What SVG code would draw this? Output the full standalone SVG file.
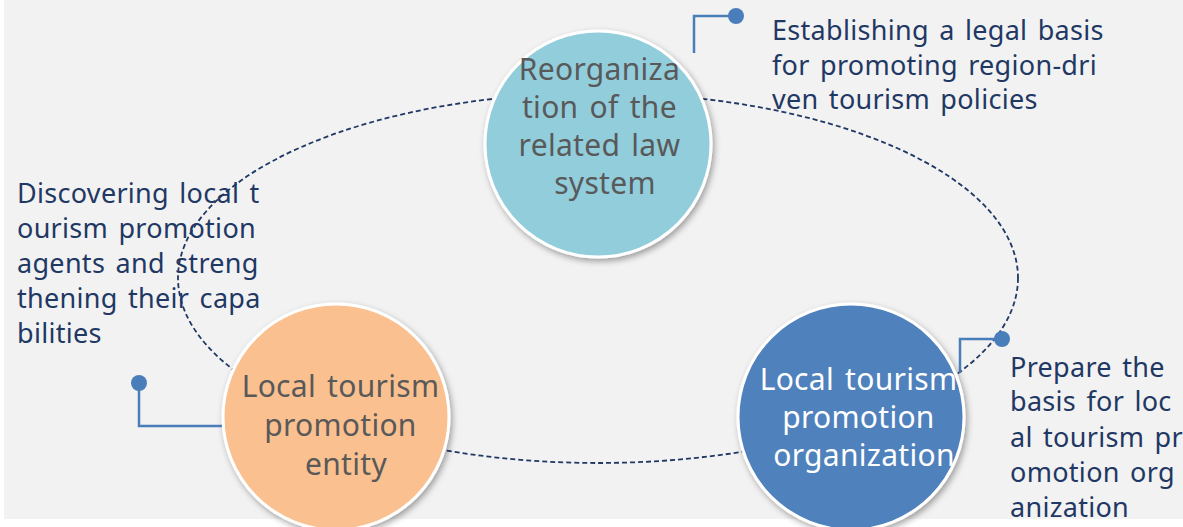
<svg xmlns="http://www.w3.org/2000/svg" width="1183" height="527" viewBox="0 0 1183 527">
  <defs>
    <filter id="shadow" x="-20%" y="-20%" width="140%" height="140%">
      <feDropShadow dx="2" dy="3" stdDeviation="3" flood-color="#000" flood-opacity="0.35"/>
    </filter>
    <style>
      .ring { fill: none; stroke: #1f3864; stroke-width: 1.8; stroke-dasharray: 5 3; }
      .callout { fill: none; stroke: #4a7ebb; stroke-width: 2.5; }
      .dot { fill: #4a7ebb; }
      .node { stroke: #ffffff; stroke-width: 3; filter: url(#shadow); }
      .label { font-family: "Noto Sans", "Open Sans", sans-serif; font-size: 30px; letter-spacing: 0.3px; word-spacing: 3px; text-anchor: middle; }
      .note { font-family: "Noto Sans", "Open Sans", sans-serif; font-size: 27px; letter-spacing: 0.3px; word-spacing: 3px; fill: #1f3864; }
    </style>
  </defs>

  <rect x="0" y="0" width="1183" height="527" fill="#ffffff"/>
  <rect x="4" y="0" width="1179" height="519" fill="#f2f2f2"/>

  <!-- dashed cycle and callout leaders -->
  <g id="connectors">
    <ellipse class="ring" cx="598" cy="278" rx="420" ry="185"/>
    <polyline class="callout" points="694,53 694,16 736,16"/>
    <circle class="dot" cx="736" cy="16" r="8"/>
    <polyline class="callout" points="139,383 139,426 222,426"/>
    <circle class="dot" cx="139" cy="383" r="8"/>
    <polyline class="callout" points="960,373 960,339 1002,339"/>
    <circle class="dot" cx="1002" cy="339" r="8"/>
  </g>

  <g id="node-law">
    <circle class="node" cx="598" cy="144" r="113" fill="#92cddc"/>
    <text class="label" fill="#595959">
      <tspan x="605" y="80">Reorganiza</tspan>
      <tspan x="605" y="118">tion of the</tspan>
      <tspan x="605" y="156">related law</tspan>
      <tspan x="605" y="194">system</tspan>
    </text>
  </g>

  <g id="node-entity">
    <circle class="node" cx="336" cy="417" r="113" fill="#fac090"/>
    <text class="label" fill="#595959">
      <tspan x="346" y="397">Local tourism</tspan>
      <tspan x="346" y="436">promotion</tspan>
      <tspan x="346" y="475">entity</tspan>
    </text>
  </g>

  <g id="node-organization">
    <circle class="node" cx="851" cy="417" r="113" fill="#4f81bd"/>
    <text class="label" fill="#ffffff">
      <tspan x="864" y="390">Local tourism</tspan>
      <tspan x="864" y="428">promotion</tspan>
      <tspan x="864" y="466">organization</tspan>
    </text>
  </g>

  <g id="note-law">
    <text class="note">
      <tspan x="772" y="40">Establishing a legal basis</tspan>
      <tspan x="772" y="75">for promoting region-dri</tspan>
      <tspan x="772" y="109">ven tourism policies</tspan>
    </text>
  </g>

  <g id="note-entity">
    <text class="note">
      <tspan x="17" y="203">Discovering local t</tspan>
      <tspan x="17" y="238">ourism promotion</tspan>
      <tspan x="17" y="273">agents and streng</tspan>
      <tspan x="17" y="308">thening their capa</tspan>
      <tspan x="17" y="343">bilities</tspan>
    </text>
  </g>

  <g id="note-organization">
    <text class="note">
      <tspan x="1010" y="377">Prepare the</tspan>
      <tspan x="1010" y="411">basis for loc</tspan>
      <tspan x="1010" y="447">al tourism pr</tspan>
      <tspan x="1010" y="482">omotion org</tspan>
      <tspan x="1010" y="517">anization</tspan>
    </text>
  </g>
</svg>
